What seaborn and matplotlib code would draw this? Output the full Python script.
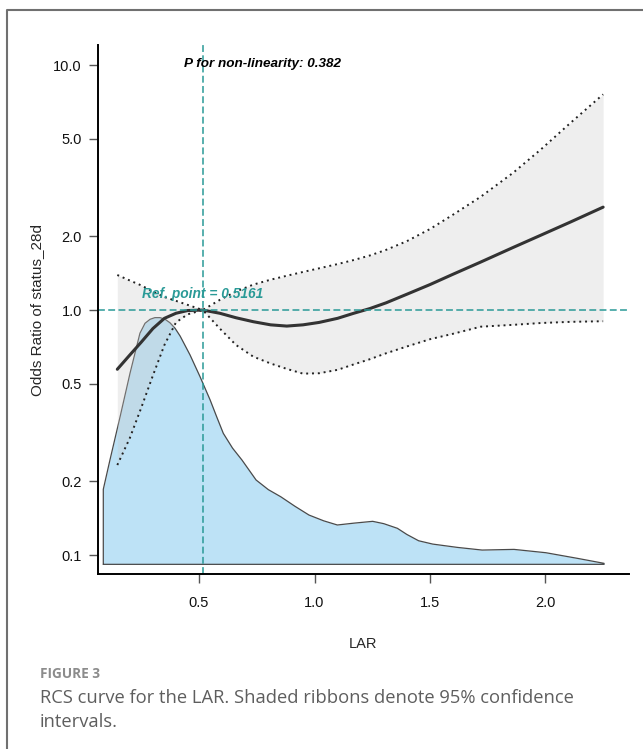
import matplotlib
matplotlib.use("Agg")
import matplotlib.pyplot as plt
from matplotlib.lines import Line2D
from matplotlib.ticker import FixedLocator, FixedFormatter, NullLocator
import numpy as np
import pandas as pd
import seaborn as sns

# RCS fit for LAR, odds ratio scale
lar = [0.146, 0.20, 0.25, 0.30, 0.35, 0.40, 0.45, 0.5161, 0.59, 0.66, 0.735,
       0.81, 0.88, 0.95, 1.02, 1.10, 1.17, 1.24, 1.31, 1.40, 1.50, 1.60,
       1.72, 1.86, 1.98, 2.11, 2.25]
or_fit = [0.573, 0.655, 0.74, 0.84, 0.925, 0.97, 0.995, 1.0, 0.97, 0.93, 0.896,
          0.87, 0.86, 0.87, 0.89, 0.925, 0.97, 1.014, 1.07, 1.16, 1.27, 1.40,
          1.57, 1.80, 2.02, 2.29, 2.63]
or_upper = [1.39, 1.32, 1.26, 1.19, 1.13, 1.09, 1.05, 1.0, 1.10, 1.19, 1.27,
            1.33, 1.38, 1.43, 1.48, 1.54, 1.60, 1.67, 1.76, 1.91, 2.14, 2.45,
            2.90, 3.63, 4.52, 5.82, 7.59]
or_lower = [0.233, 0.30, 0.40, 0.54, 0.72, 0.89, 0.96, 1.0, 0.84, 0.72, 0.645,
            0.605, 0.575, 0.55, 0.552, 0.57, 0.60, 0.63, 0.666, 0.71, 0.76, 0.80,
            0.855, 0.87, 0.885, 0.895, 0.90]

# distribution of LAR (density)
dens_x = [0.0853, 0.114, 0.158, 0.201, 0.244, 0.266, 0.288, 0.309, 0.331, 0.353,
          0.374, 0.396, 0.418, 0.461, 0.504, 0.548, 0.576, 0.605, 0.645, 0.686,
          0.747, 0.80, 0.854, 0.915, 0.976, 1.04, 1.099, 1.17, 1.252, 1.30,
          1.359, 1.40, 1.451, 1.512, 1.619, 1.726, 1.864, 2.002, 2.139, 2.254]
dens_y = [0.452, 0.628, 0.889, 1.151, 1.392, 1.452, 1.476, 1.486, 1.486, 1.476,
          1.455, 1.422, 1.375, 1.261, 1.131, 0.990, 0.89, 0.789, 0.70, 0.628,
          0.508, 0.45, 0.407, 0.35, 0.297, 0.262, 0.237, 0.248, 0.259, 0.245,
          0.217, 0.18, 0.142, 0.122, 0.102, 0.086, 0.090, 0.070, 0.036, 0.006]

ref_point = 0.5161
p_nonlin = 0.382
x_ticks = [0.5, 1.0, 1.5, 2.0]
x_ticklabels = ["0.5", "1.0", "1.5", "2.0"]
y_ticks = [0.1, 0.2, 0.5, 1.0, 2.0, 5.0, 10.0]
y_ticklabels = ["0.1", "0.2", "0.5", "1.0", "2.0", "5.0", "10.0"]

teal = "#2A9A97"

sns.set_style("ticks")
plt.rcParams['font.family'] = ['Liberation Sans', 'DejaVu Sans']

df = pd.DataFrame({'LAR': lar, 'fit': or_fit, 'upper': or_upper, 'lower': or_lower})

fig = plt.figure(figsize=(6.43, 7.49), dpi=100)
ax = fig.add_axes([0.1529, 0.2332, 0.8253, 0.7067])

# density in the background on its own scale
ax2 = ax.twinx()
ax2.fill_between(dens_x, 0, dens_y, color="#BDE2F6", lw=0)
ox = np.r_[dens_x[0], dens_x, dens_x[-1], dens_x[0]]
oy = np.r_[0, dens_y, 0, 0]
ax2.plot(ox, oy, color="#4a4a4a", lw=0.9)
ax2.set_ylim(-0.0602, 3.128)
ax2.axis('off')
ax.set_zorder(ax2.get_zorder() + 1)
ax.patch.set_visible(False)

ax.fill_between(df['LAR'], df['lower'], df['upper'], color="#C8C8C8", alpha=0.3, lw=0)
sns.lineplot(data=df, x='LAR', y='upper', ax=ax, color="#222222", lw=1.4,
             linestyle=(0, (1, 2)))
sns.lineplot(data=df, x='LAR', y='lower', ax=ax, color="#222222", lw=1.4,
             linestyle=(0, (1, 2)))
sns.lineplot(data=df, x='LAR', y='fit', ax=ax, color="#333333", lw=2.2)

ax.axhline(1.0, color=teal, lw=1.1, linestyle=(0, (4.5, 2.2)))
ax.axvline(ref_point, color=teal, lw=1.1, linestyle=(0, (4.5, 2.2)))

ax.set_yscale('log')
ax.set_xlim(0.0637, 2.362)
ax.set_ylim(0.0834, 12.07)
ax.yaxis.set_major_locator(FixedLocator(y_ticks))
ax.yaxis.set_major_formatter(FixedFormatter(y_ticklabels))
ax.yaxis.set_minor_locator(NullLocator())
ax.set_xticks(x_ticks)
ax.set_xticklabels(x_ticklabels)

ax.text(ref_point, 1.16, "Ref. point = " + str(ref_point), color=teal,
        fontsize=9.9, fontweight='bold', style='italic', ha='center', va='center')
ax.text(0.435, 10.1, "P for non-linearity: " + str(p_nonlin), color="black",
        fontsize=9.7, fontweight='bold', style='italic', ha='left', va='center')

for s in ['top', 'right']:
    ax.spines[s].set_visible(False)
for s in ['left', 'bottom']:
    ax.spines[s].set_linewidth(1.4)
    ax.spines[s].set_color('black')
ax.tick_params(axis='both', direction='out', length=6.5, width=1, color='#555555',
               labelsize=10.5, labelcolor='#111111')
ax.tick_params(axis='x', pad=9)
ax.tick_params(axis='y', pad=5.4)

ax.set_xlabel("LAR", fontsize=10.5)
ax.set_ylabel("Odds Ratio of status_28d", fontsize=11)
ax.xaxis.set_label_coords(0.4988, -0.1175)
ax.yaxis.set_label_coords(-0.102, 0.5)

# page frame and caption
fig.add_artist(Line2D([7 / 643, 7 / 643, 1.0], [0, 1 - 10 / 749, 1 - 10 / 749],
                      transform=fig.transFigure, color="#707070", lw=1.5))
fig.text(40 / 643, 1 - 674 / 749, "FIGURE 3", family=['Open Sans', 'DejaVu Sans'],
         fontsize=9.8, fontweight='bold', color="#8c8c8c", va='center', ha='left')
fig.text(40 / 643, 1 - 698 / 749,
         "RCS curve for the LAR. Shaded ribbons denote 95% confidence",
         family=['Open Sans', 'DejaVu Sans'], fontsize=13.2, color="#5e5e5e",
         va='center', ha='left')
fig.text(40 / 643, 1 - 722 / 749, "intervals.", family=['Open Sans', 'DejaVu Sans'],
         fontsize=13.2, color="#5e5e5e", va='center', ha='left')

fig.savefig("out.png", dpi=100)
